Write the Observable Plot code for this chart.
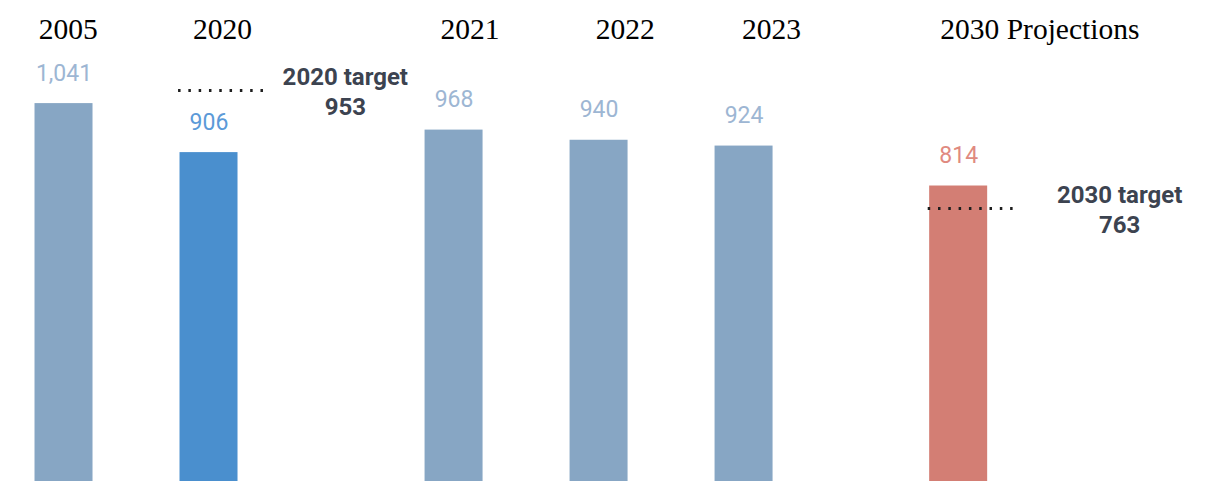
<!DOCTYPE html>
<html>
<head>
<meta charset="utf-8">
<script src="https://cdn.jsdelivr.net/npm/d3@7"></script>
<script src="https://cdn.jsdelivr.net/npm/@observablehq/plot@0.6"></script>
<style>
  html, body { margin: 0; padding: 0; background: #fff; }
  #chart svg { display: block; }
</style>
</head>
<body>
<div id="chart"></div>
<script>
// ---- Data ----
const years = ["2005", "2020", "2021", "2022", "2023", "2030"];
const values = [1041, 906, 968, 940, 924, 814];
const kinds = ["historic", "actual2020", "historic", "historic", "historic", "projection"];
const yearLabels = ["2005", "2020", "2021", "2022", "2023", "2030 Projections"];

const targetYears = ["2020", "2030"];
const targetValues = [953, 763];
// level at which each dotted target marker is drawn in the picture
const targetDrawnLevel = [1077, 752];

// ---- Layout (slot positions on the x axis, separate from data) ----
const barSlot = {"2005": 0, "2020": 1, "2021": 2.69, "2022": 3.69, "2023": 4.69, "2030": 6.17};
const yearLabelSlot = {"2005": 0.03, "2020": 1.093, "2021": 2.80, "2022": 3.87, "2023": 4.88, "2030": 6.73};
const targetLabelSlot = {"2020": 1.94, "2030": 7.28};
const halfBar = 0.2;
const targetLineLen = 0.607;

const barFill = {historic: "#87a6c4", actual2020: "#4a8fce", projection: "#d37e74"};
const labelFill = {historic: "#9db6d3", actual2020: "#5b9ad8", projection: "#e08a80"};

const bars = years.map((y, i) => ({year: y, value: values[i], kind: kinds[i], label: yearLabels[i]}));
const targets = targetYears.map((y, i) => ({year: y, value: targetValues[i], level: targetDrawnLevel[i]}));

const fmt = d3.format(",");

const chart = Plot.plot({
  width: 1208,
  height: 481,
  marginTop: 0,
  marginBottom: 0,
  marginLeft: 0,
  marginRight: 0,
  x: {type: "linear", domain: [-0.438, 7.893], axis: null},
  y: {domain: [0, 1325], axis: null},
  style: {fontFamily: "Roboto, 'Noto Sans', sans-serif", background: "#fff"},
  marks: [
    Plot.rectY(bars, {
      x1: d => barSlot[d.year] - halfBar,
      x2: d => barSlot[d.year] + halfBar,
      y1: 0,
      y2: "value",
      fill: d => barFill[d.kind]
    }),
    Plot.text(bars, {
      x: d => barSlot[d.year],
      y: "value",
      text: d => fmt(d.value),
      fill: d => labelFill[d.kind],
      fontSize: 23,
      fontWeight: 400,
      lineAnchor: "bottom",
      dy: -23
    }),
    Plot.text(bars, {
      x: d => yearLabelSlot[d.year],
      frameAnchor: "top",
      text: "label",
      fill: "#000",
      fontSize: 29.5,
      fontFamily: "'Liberation Serif', 'Times New Roman', serif",
      lineAnchor: "bottom",
      dy: 38
    }),
    Plot.ruleY(targets, {
      y: "level",
      x1: d => barSlot[d.year] - halfBar - 0.01,
      x2: d => barSlot[d.year] - halfBar - 0.01 + targetLineLen,
      stroke: "#1e1e1e",
      strokeWidth: 3,
      strokeDasharray: "2.5 7.8"
    }),
    Plot.text(targets, {
      x: d => targetLabelSlot[d.year],
      y: "level",
      text: d => `${d.year} target\n${d.value}`,
      fill: "#3c4350",
      fontSize: 24,
      fontWeight: 700,
      lineHeight: 1.25,
      lineAnchor: "middle"
    })
  ]
});

document.getElementById("chart").appendChild(chart);
</script>
</body>
</html>
